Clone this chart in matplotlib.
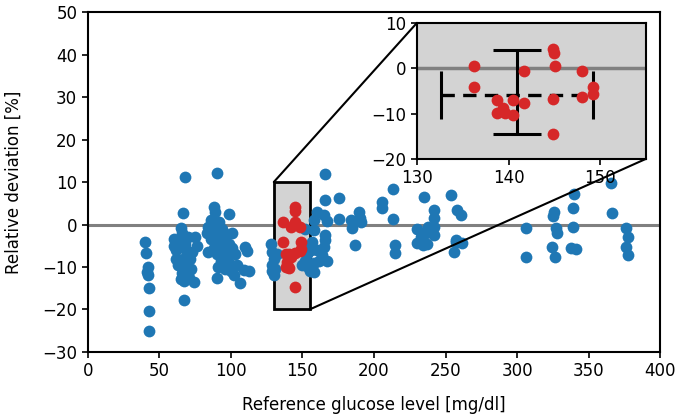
import matplotlib
matplotlib.use("Agg")
import matplotlib.pyplot as plt
from matplotlib.patches import Rectangle, ConnectionPatch

# ---- data ----
blue_x = [40, 40.5, 42, 41.5, 42, 42.5, 43, 43,
          67.7, 66.6, 65, 66, 60, 75.2, 64, 68, 76, 62, 68.5, 73, 61.5, 66.5, 71.4, 63, 69, 65.9, 69.8,
          67.4, 74, 71, 67.4, 60.5, 70, 72, 65,
          90.3, 88, 89, 98.5, 86, 92, 84, 88, 94, 83.3, 90, 96, 86, 92, 99, 88, 95, 101, 90, 97, 103,
          93, 99, 104, 91, 96, 100, 90.3, 106.2, 110, 111, 109, 113, 102, 84, 95, 101,
          128, 129, 130, 128.5, 131, 130, 132, 129,
          152, 151, 153, 152, 154, 155, 150, 156,
          158, 158, 166, 166, 175.4, 165, 167, 175.4, 166, 166, 165, 163.8, 158, 158, 161.4, 157, 160,
          160, 167,
          183.6, 184.7, 189.4, 190.6, 187, 190,
          205.7, 205.7, 213.1, 213.1, 215, 215,
          234.8, 241.8, 241.8, 241.8, 241.8, 230, 232.5, 230, 237.2, 236, 238, 234,
          253.5, 258.2, 260.5, 257, 261.7, 255.8, 257,
          306, 306,
          325.7, 325, 327, 327.6, 324.6, 326.2,
          339.7, 339.3, 339.3, 337.4, 341,
          365.4, 366.6, 375.9, 377.5, 375.9, 377.5]
blue_y = [-4.2, -6.8, -10.1, -11.2, -12, -15, -20.4, -25.1,
          11.2, 2.6, -0.9, -2.0, -3.5, -2.9, -4.0, -4.5, -5, -6.0, -6.0, -6.5, -8.0, -8.2, -8.2, -9.5, -10,
          -11.5, -11.8, -13.2, -13.5, -12.5, -17.8, -5, -3, -10.5, -12.8,
          12.2, 4.2, 3.0, 2.5, 1.0, 0.5, -0.5, -1.3, -1.0, -2.0, -2.5, -2.8, -3.5, -4.0, -4.5, -5.5, -6.0,
          -5.5, -7.0, -7.5, -7.0, -8.5, -9.0, -9.5, -10.0, -10.5, -11.0, -12.7, -13.8, -5.2, -6.3, -10.7,
          -11.0, -12, -6.5, -2, -2.0,
          -4.5, -6.5, -8, -9.5, -10.5, -12, -7, -11,
          -1.0, -5, -7, -8.5, -10, -11, -9.5, -6,
          1.1, -1.3, 12.0, 5.8, 6.3, 2.2, 0.8, 1.2, -2.5, -3.6, -5.2, -7.2, -9.1, -11.1, -8.5, -4.0, -6.0,
          3.0, -8.6,
          1.1, -0.9, 3.0, 0.7, -4.8, 1.5,
          5.4, 3.8, 8.3, 1.2, -4.8, -6.8,
          6.5, 3.4, 1.5, -0.5, -2.5, -1.1, -2.9, -4.4, -4.5, -2, -0.5, -4.8,
          6.9, 3.4, 2.2, -4.0, -4.4, -6.4, -3.6,
          -0.9, -7.6,
          3.0, 2.0, -0.9, -1.9, -5.2, -7.6,
          7.3, 3.8, -0.5, -5.6, -5.7,
          9.7, 2.6, -0.9, -3.0, -5.4, -7.2]

red_x = [136.2, 136.2, 138.7, 138.7, 139.4, 139.6, 140.5, 140.5, 141.7, 141.7,
         144.9, 145.0, 145.1, 144.9, 144.9, 148.0, 148.0, 149.2, 149.2]
red_y = [0.5, -4.1, -7.0, -9.9, -8.8, -9.9, -10.3, -6.9, -0.5, -7.7,
         4.2, 3.3, 0.5, -6.8, -14.6, -0.7, -6.3, -4.2, -5.7]

# summary error bars in the inset
hbar_x, hbar_y, hbar_xerr = 140.9, -5.9, 8.3
vbar_x, vbar_y, vbar_yerr = 140.9, -5.3, 9.3

zoom_x = (130, 155)
zoom_y = (-20, 10)

BLUE = "#1f77b4"
RED = "#d62728"
FS = 12
MS = 72

fig = plt.figure(figsize=(6.8, 4.18), dpi=100)
ax = fig.add_axes([0.129, 0.158, 0.842, 0.813])

ax.axhline(0, color="gray", lw=2.2, zorder=1)
ax.add_patch(Rectangle((zoom_x[0], zoom_y[0]), zoom_x[1] - zoom_x[0], zoom_y[1] - zoom_y[0],
                       facecolor="lightgray", edgecolor="black", lw=2, zorder=1.5))
ax.scatter(blue_x, blue_y, s=MS, color=BLUE, zorder=2, linewidths=0)
ax.scatter(red_x, red_y, s=MS, color=RED, zorder=3, linewidths=0)

ax.set_xlim(0, 400)
ax.set_ylim(-30, 50)
ax.set_xticks(range(0, 401, 50))
ax.set_yticks(range(-30, 51, 10))
ax.set_xlabel("Reference glucose level [mg/dl]", fontsize=FS, labelpad=11)
ax.set_ylabel("Relative deviation [%]", fontsize=FS, labelpad=14)
ax.tick_params(labelsize=FS, width=1.2, length=4)
for s in ax.spines.values():
    s.set_linewidth(1.5)

axins = fig.add_axes([0.613, 0.62, 0.337, 0.325])
axins.set_facecolor("lightgray")
axins.axhline(0, color="gray", lw=2.5, zorder=1)
axins.scatter(red_x, red_y, s=MS, color=RED, zorder=3, linewidths=0)
eb = axins.errorbar(hbar_x, hbar_y, xerr=hbar_xerr, fmt="none", ecolor="black",
                    elinewidth=2.4, capsize=17, capthick=2.2, zorder=2)
eb[2][0].set_linestyle((0, (4, 2.5)))
axins.errorbar(vbar_x, vbar_y, yerr=vbar_yerr, fmt="none", ecolor="black",
               elinewidth=2.2, capsize=17, capthick=2.2, zorder=2)
axins.set_xlim(*zoom_x)
axins.set_ylim(*zoom_y)
axins.set_xticks([130, 140, 150])
axins.set_yticks([-20, -10, 0, 10])
axins.tick_params(labelsize=FS, width=1.2, length=4)
for s in axins.spines.values():
    s.set_linewidth(1.5)

con1 = ConnectionPatch(xyA=(zoom_x[0], zoom_y[1]), coordsA="data", axesA=ax,
                       xyB=(0, 1), coordsB="axes fraction", axesB=axins,
                       color="black", lw=1.5, zorder=5)
con2 = ConnectionPatch(xyA=(zoom_x[1], zoom_y[0]), coordsA="data", axesA=ax,
                       xyB=(1, 0), coordsB="axes fraction", axesB=axins,
                       color="black", lw=1.5, zorder=5)
fig.add_artist(con1)
fig.add_artist(con2)

fig.savefig("out.png", dpi=100)
